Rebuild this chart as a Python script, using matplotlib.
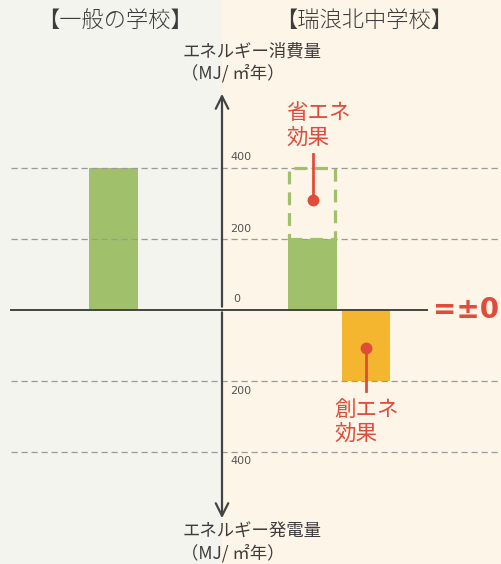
import matplotlib.pyplot as plt
from matplotlib.patches import Rectangle

plt.rcParams['font.family'] = ['Noto Sans CJK JP', 'DejaVu Sans']

# data (MJ / m2 year)
schools = ['【一般の学校】', '【瑞浪北中学校】']
general_consumption = 400
mizunami_consumption = 200
saving_effect = 200
generation_effect = 200
grid_values = [400, 200, -200, -400]
tick_values = [400, 200, 0, -200, -400]

green = '#a0c06c'
orange = '#f4b52f'
red = '#e04c3a'
axis_col = '#444444'
text_col = '#3c3c3c'

W, H = 502, 564
y0_px = 309.5
px_per_unit = 71.0 / 200


def ypx(p):
    # pixel row -> data value
    return (y0_px - p) / px_per_unit


fig = plt.figure(figsize=(W / 100, H / 100), dpi=100)
ax = fig.add_axes([0, 0, 1, 1])
ax.set_xlim(0, W)
ax.set_ylim(ypx(H), ypx(0))
ax.axis('off')

# backgrounds
ax.add_patch(Rectangle((0, ypx(H)), 222, ypx(0) - ypx(H), color='#f3f4ee', zorder=0))
ax.add_patch(Rectangle((222, ypx(H)), W - 222, ypx(0) - ypx(H), color='#fdf5e8', zorder=0))

# grid
for g in grid_values:
    ax.plot([11, W], [g, g], color='#9a9a9a', lw=0.9, ls=(0, (5, 3)), zorder=3)

# bars
ax.bar(113.5, general_consumption, width=49, color=green, zorder=2)
ax.bar(312.5, mizunami_consumption, width=49, color=green, zorder=2)
ax.bar(366.5, -generation_effect, width=48, color=orange, zorder=2)
ax.add_patch(Rectangle((289.5, mizunami_consumption), 45.5, saving_effect, fill=False,
                       ec=green, lw=2.3, ls=(0, (4, 2.5)), zorder=4))

# zero line
ax.plot([11, 427], [0, 0], color=axis_col, lw=1.4, zorder=5)

# vertical axis with arrows
ax.annotate('', xy=(222, ypx(91)), xytext=(222, 0),
            arrowprops=dict(arrowstyle='->,head_length=0.9,head_width=0.45', color=axis_col, lw=1.6), zorder=5)
ax.annotate('', xy=(222, ypx(521)), xytext=(222, 0),
            arrowprops=dict(arrowstyle='->,head_length=0.9,head_width=0.45', color=axis_col, lw=1.6), zorder=5)

# tick labels
for v in tick_values:
    if v > 0:
        ax.text(230, v + 5 / px_per_unit, str(v), fontsize=8, color='#555555', va='bottom', ha='left',
                family='DejaVu Sans', zorder=6)
    elif v == 0:
        ax.text(233, 5 / px_per_unit, '0', fontsize=8, color='#555555', va='bottom', ha='left',
                family='DejaVu Sans', zorder=6)
    else:
        ax.text(230, v - 5 / px_per_unit, str(-v), fontsize=8, color='#555555', va='top', ha='left',
                family='DejaVu Sans', zorder=6)

# titles
ax.text(115, ypx(22), schools[0], fontsize=16, color=text_col, ha='center', va='center', fontweight='light')
ax.text(364, ypx(22), schools[1], fontsize=16, color=text_col, ha='center', va='center', fontweight='light')

# axis labels
ax.text(183, ypx(52), 'エネルギー消費量', fontsize=12.5, color=text_col, ha='left', va='center')
ax.text(181, ypx(73), '（MJ/ ㎡年）', fontsize=12.5, color=text_col, ha='left', va='center')
ax.text(183, ypx(532), 'エネルギー発電量', fontsize=12.5, color=text_col, ha='left', va='center')
ax.text(181, ypx(553), '（MJ/ ㎡年）', fontsize=12.5, color=text_col, ha='left', va='center')

# annotations
ax.text(286, ypx(113), '省エネ', fontsize=15.5, color=red, ha='left', va='center', zorder=6)
ax.text(286, ypx(138), '効果', fontsize=15.5, color=red, ha='left', va='center', zorder=6)
ax.plot([313, 313], [ypx(154), ypx(200)], color=red, lw=2, zorder=6)
ax.plot(313, ypx(200), 'o', ms=7.5, color=red, zorder=7)

ax.text(334, ypx(410), '創エネ', fontsize=15.5, color=red, ha='left', va='center', zorder=6)
ax.text(334, ypx(434), '効果', fontsize=15.5, color=red, ha='left', va='center', zorder=6)
ax.plot([366, 366], [ypx(348), ypx(391)], color=red, lw=2, zorder=6)
ax.plot(366, ypx(348), 'o', ms=7.5, color=red, zorder=7)

ax.text(466, 0, '=±0', fontsize=20, fontweight='bold', color=red, ha='center', va='center',
        family='DejaVu Sans', zorder=6)

fig.savefig('out.png', dpi=100)
